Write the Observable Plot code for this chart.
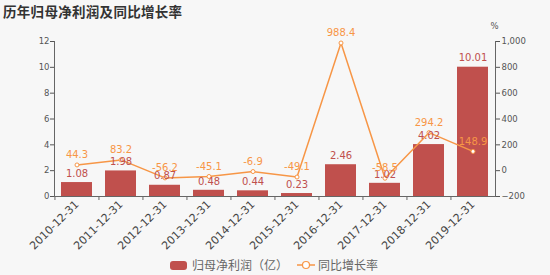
<!DOCTYPE html>
<html>
<head>
<meta charset="utf-8">
<script src="https://cdn.jsdelivr.net/npm/d3@7"></script>
<script src="https://cdn.jsdelivr.net/npm/@observablehq/plot@0.6"></script>
<style>
  html, body { margin: 0; padding: 0; background: #f7f7f7; }
  #wrap { position: relative; width: 550px; height: 275px; overflow: hidden;
          font-family: "DejaVu Sans", "Noto Sans CJK SC", sans-serif; }
  #chart { position: absolute; left: 0; top: 0; }
  #title { position: absolute; left: 3px; top: 1px; font-size: 13.5px; font-weight: bold; color: #333;
           font-family: "Noto Sans CJK SC", sans-serif; letter-spacing: 0.3px; }
  .leg { position: absolute; font-size: 12px; color: #666; font-family: "Noto Sans CJK SC", sans-serif; line-height: 14px; }
</style>
</head>
<body>
<div id="wrap">
  <div id="chart"></div>
  <div id="title">历年归母净利润及同比增长率</div>
  <div id="legend"></div>
</div>
<script>
const years = ["2010-12-31","2011-12-31","2012-12-31","2013-12-31","2014-12-31","2015-12-31","2016-12-31","2017-12-31","2018-12-31","2019-12-31"];
const profit = [1.08, 1.98, 0.87, 0.48, 0.44, 0.23, 2.46, 1.02, 4.02, 10.01];
const growth = [44.3, 83.2, -56.2, -45.1, -6.9, -49.1, 988.4, -58.5, 294.2, 148.9];
const leftTicks = [0, 2, 4, 6, 8, 10, 12];
const rightTicks = [-200, 0, 200, 400, 600, 800, 1000];
const seriesNames = ["归母净利润（亿）", "同比增长率"];

const barColor = "#c0504d";
const lineColor = "#f79646";
const axisColor = "#666";

const gMin = -200, gMax = 1000, pMin = 0, pMax = 12;
const toLeft = g => pMin + (g - gMin) / (gMax - gMin) * (pMax - pMin);
const fromLeft = v => gMin + (v - pMin) / (pMax - pMin) * (gMax - gMin);

const rows = years.map((y, i) => ({year: y, profit: profit[i], growth: growth[i], g: toLeft(growth[i])}));

const W = 550, H = 275, mL = 54, mR = 55, mT = 41, mB = 79;
const step = (W - mL - mR) / years.length;

const chart = Plot.plot({
  width: W, height: H,
  marginTop: mT, marginBottom: mB, marginLeft: mL, marginRight: mR,
  style: {background: "transparent", fontFamily: "DejaVu Sans, sans-serif", overflow: "visible"},
  x: {domain: years, paddingInner: 0.3, paddingOuter: 0.15, label: null},
  y: {domain: [pMin, pMax], label: null},
  marks: [
    Plot.barY(rows, {x: "year", y: "profit", fill: barColor}),
    Plot.line(rows, {x: "year", y: "g", stroke: lineColor, strokeWidth: 1.5}),
    Plot.dot(rows, {x: "year", y: "g", r: 2, fill: "white", stroke: lineColor, strokeWidth: 1}),
    Plot.text(rows, {x: "year", y: "profit", text: d => d.profit.toFixed(2), dy: -9, fill: barColor, fontSize: 10}),
    Plot.text(rows, {x: "year", y: "g", text: d => d.growth.toFixed(1), dy: -10, fill: lineColor, fontSize: 10}),
    Plot.frame({anchor: "left", stroke: axisColor}),
    Plot.frame({anchor: "right", stroke: axisColor}),
    Plot.frame({anchor: "bottom", stroke: axisColor}),
    Plot.axisY({anchor: "left", ticks: leftTicks, tickSize: 4, tickPadding: 1, fontSize: 8.5, color: "#555", label: null}),
    Plot.axisY({anchor: "right", ticks: rightTicks.map(toLeft), tickSize: 4, tickPadding: 2, fontSize: 8.5, color: "#555",
                tickFormat: v => d3.format(",")(Math.round(fromLeft(v))), label: null}),
    Plot.axisX({anchor: "bottom", tickSize: 0, tickPadding: 6, tickRotate: -45, fontSize: 11, color: "#444", label: null}),
    Plot.axisX({anchor: "bottom", tickSize: 4, text: null, dx: -step / 2, stroke: axisColor, label: null}),
    Plot.text(["%"], {frameAnchor: "top-right", dx: 3, dy: -15, lineAnchor: "middle", fontSize: 8.5, fill: "#555"})
  ]
});
document.getElementById("chart").appendChild(chart);

// legend
const leg = document.getElementById("legend");
leg.innerHTML = `
  <div style="position:absolute;left:170px;top:261px;width:17px;height:9px;background:${barColor};border-radius:3px;"></div>
  <div class="leg" style="left:192px;top:258px;">${seriesNames[0]}</div>
  <svg style="position:absolute;left:296px;top:259px;" width="20" height="12">
    <line x1="1" y1="6" x2="19" y2="6" stroke="${lineColor}" stroke-width="1.5"/>
    <circle cx="10" cy="6" r="3.5" fill="white" stroke="${lineColor}" stroke-width="1.2"/>
  </svg>
  <div class="leg" style="left:318px;top:258px;">${seriesNames[1]}</div>`;
</script>
</body>
</html>
